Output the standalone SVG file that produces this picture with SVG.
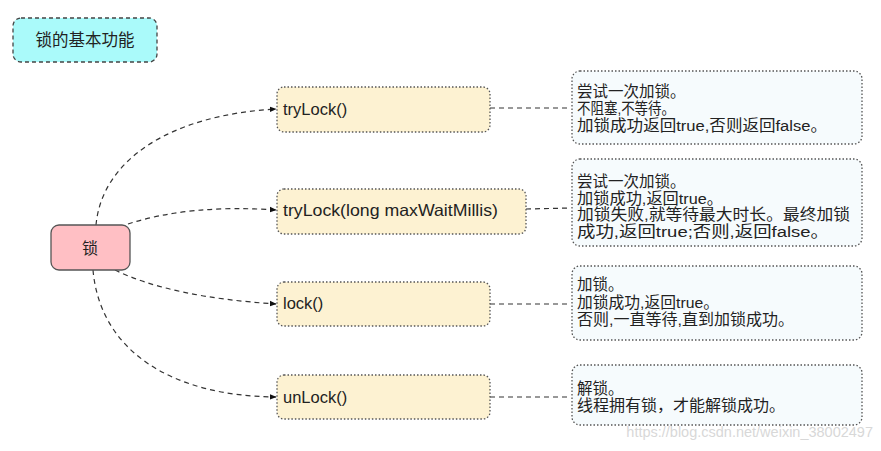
<svg xmlns="http://www.w3.org/2000/svg" width="881" height="451" viewBox="0 0 881 451">
<defs>
<style>
.t{font-family:"Liberation Sans","Noto Sans CJK SC",sans-serif;fill:#222;}
.cjk{font-family:"Noto Sans CJK SC","Liberation Sans",sans-serif;fill:#222;}
.m{fill:#fdf2d2;stroke:#555;stroke-width:1.3;stroke-dasharray:1.5 2;}
.d{fill:#f6fbfd;stroke:#555;stroke-width:1.3;stroke-dasharray:1.5 2;}
.c{fill:none;stroke:#333;stroke-width:1.2;stroke-dasharray:5 4;}
.desc{font-family:"Liberation Sans","Noto Sans CJK SC",sans-serif;font-size:15.5px;fill:#222;}
</style>
<marker id="arr" viewBox="0 0 10 10" refX="9" refY="5" markerWidth="7" markerHeight="7" orient="auto" markerUnits="userSpaceOnUse">
<path d="M0,1 L10,5 L0,9 z" fill="#111"/>
</marker>
</defs>
<rect width="881" height="451" fill="#fff"/>

<g id="title">
<rect x="13" y="18" width="144" height="44" rx="8" fill="#aafafa" stroke="#444" stroke-width="1.3" stroke-dasharray="4 3"/>
<text class="cjk" x="85" y="46" font-size="16.5" text-anchor="middle">锁的基本功能</text>
</g>

<g id="connectors">
<path class="c" d="M96,225 C102,160 170,115 276,109" marker-end="url(#arr)"/>
<path class="c" d="M128,224 Q190,204 276,210" marker-end="url(#arr)"/>
<path class="c" d="M115,270 Q170,297 276,304" marker-end="url(#arr)"/>
<path class="c" d="M93,270 C100,350 170,396 276,397" marker-end="url(#arr)"/>
<path class="c" d="M490,108 L571,108"/>
<path class="c" d="M526,209 L571,208"/>
<path class="c" d="M490,304 L571,304"/>
<path class="c" d="M490,397 L571,397"/>
</g>

<g id="lock">
<rect x="51" y="225" width="79" height="45" rx="8" fill="#ffbfc4" stroke="#555" stroke-width="1.3"/>
<text class="cjk" x="90" y="254" font-size="16" text-anchor="middle">锁</text>
</g>

<g id="m-trylock">
<rect class="m" x="277" y="87" width="213" height="45" rx="7"/>
<text class="t" x="283" y="115" font-size="16.5">tryLock()</text>
</g>
<g id="m-trylock-long">
<rect class="m" x="277" y="189" width="249" height="45" rx="7"/>
<text class="t" x="283" y="216" font-size="16.5" textLength="215" lengthAdjust="spacingAndGlyphs">tryLock(long maxWaitMillis)</text>
</g>
<g id="m-lock">
<rect class="m" x="277" y="282" width="213" height="44" rx="7"/>
<text class="t" x="283" y="309" font-size="16.5">lock()</text>
</g>
<g id="m-unlock">
<rect class="m" x="277" y="375" width="213" height="44" rx="7"/>
<text class="t" x="283" y="403" font-size="16.5">unLock()</text>
</g>

<g id="d-trylock">
<rect class="d" x="572" y="71" width="290" height="73" rx="8"/>
<text class="desc"><tspan x="577" y="97">尝试一次加锁。</tspan><tspan x="577" y="114" textLength="98" lengthAdjust="spacingAndGlyphs">不阻塞,不等待。</tspan><tspan x="577" y="131" textLength="250" lengthAdjust="spacingAndGlyphs">加锁成功返回true,否则返回false。</tspan></text>
</g>
<g id="d-trylock-long">
<rect class="d" x="572" y="159" width="290" height="87" rx="8"/>
<text class="desc"><tspan x="577" y="187">尝试一次加锁。</tspan><tspan x="577" y="204" textLength="146" lengthAdjust="spacingAndGlyphs">加锁成功,返回true。</tspan><tspan x="577" y="220" textLength="273" lengthAdjust="spacingAndGlyphs">加锁失败,就等待最大时长。最终加锁</tspan><tspan x="577" y="237" textLength="252" lengthAdjust="spacingAndGlyphs">成功,返回true;否则,返回false。</tspan></text>
</g>
<g id="d-lock">
<rect class="d" x="572" y="266" width="290" height="74" rx="8"/>
<text class="desc"><tspan x="577" y="290">加锁。</tspan><tspan x="577" y="308" textLength="142" lengthAdjust="spacingAndGlyphs">加锁成功,返回true。</tspan><tspan x="577" y="325" textLength="217" lengthAdjust="spacingAndGlyphs">否则,一直等待,直到加锁成功。</tspan></text>
</g>
<g id="d-unlock">
<rect class="d" x="572" y="365" width="290" height="60" rx="8"/>
<text class="desc"><tspan x="577" y="394">解锁。</tspan><tspan x="577" y="411" textLength="208" lengthAdjust="spacingAndGlyphs">线程拥有锁，才能解锁成功。</tspan></text>
</g>

<text x="873" y="437" font-family="Liberation Sans, sans-serif" font-size="14.5" fill="#d8d8d8" text-anchor="end">https://blog.csdn.net/weixin_38002497</text>
</svg>
